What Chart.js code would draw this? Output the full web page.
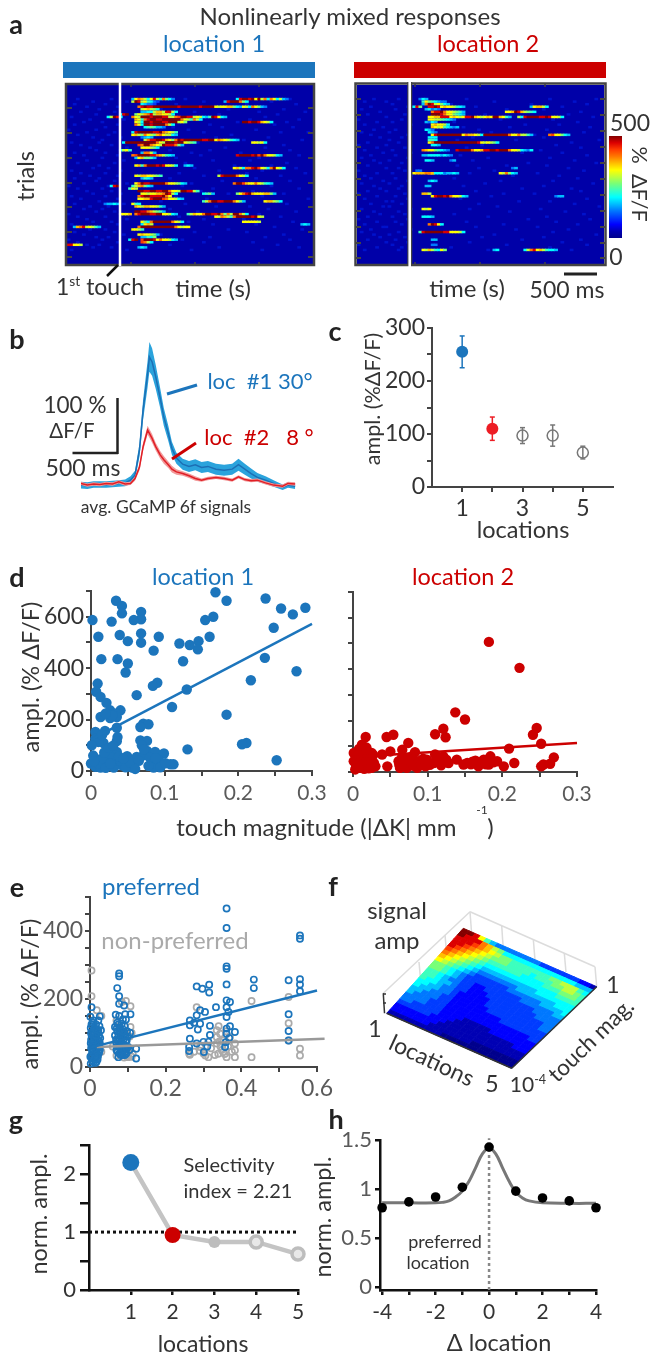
<!DOCTYPE html>
<html>
<head>
<meta charset="utf-8">
<title>Nonlinearly mixed responses</title>
<script src="https://cdn.jsdelivr.net/npm/chart.js@4"></script>
<style>
    html, body { margin: 0; padding: 0; background: #fff; }
    #page { position: relative; width: 650px; height: 1357px; overflow: hidden; font-family: Lato, sans-serif; filter: blur(0.3px); }
    #page canvas { position: absolute; }
    #page canvas.heat { filter: blur(0.5px); }
    #page canvas.surf { filter: blur(0.7px); }
    #decor { position: absolute; left: 0; top: 0; }
    .lbl { position: absolute; white-space: nowrap; line-height: 1; }
    .lbl sup { font-size: 60%; line-height: 0; }
</style>
</head>
<body>
<div id="page"></div>
<script>
// ---------- data ----------

// panel a: [trial, first time bin, colour level per bin (0-f)]
const loc1Streaks = [
    [0,21,"5acb96ae97c864"], [0,55,"6effefaf9c6ca6954"], [1,21,"9fe9a7643"], [1,51,"5efffc86"], [2,24,"65443"],
    [3,23,"cefeeffffffffeffffffeffffa9aabb865a96ca854"], [4,24,"9ab986"], [5,24,"55669bb9ee96"],
    [6,17,"6ef"], [6,22,"8a9bce9bbaa96"], [7,13,"69fe6"], [7,21,"ca9fffefffee99cdffee9a9657fea65"],
    [8,22,"ba7ceffeeffffffca97c96"], [9,22,"a96ffefffeefff9a8"], [9,57,"ffeffeba96"], [10,22,"ca6ffeffffc96"],
    [11,25,"6787554"], [13,21,"6efffffeefcba97"], [14,21,"ab98ca98bca9965"], [15,24,"4565"],
    [16,25,"9ceeffeba8cfeffffffeeffacba9765"], [17,18,"6ffffffffffca9fffeffa987"], [17,60,"aa9a6"],
    [18,23,"dcffcba9feeec85"], [19,24,"aaa986"], [20,17,"69a7"], [21,24,"5cc95"],
    [22,21,"cdffffeecb9765"], [22,55,"effffefdfcaa965"], [23,22,"5ab8875"], [26,22,"ab7cfffefeaa96"], [26,38,"565"],
    [27,54,"ab96ccefda96cfa96"], [30,22,"a9bbaa987"], [30,49,"9effffca96"], [31,24,"5765"],
    [33,22,"acfeefffffcaa9865"], [33,54,"cffdbaaca9765"], [34,14,"6ef"], [34,21,"79bc865"], [35,20,"7a9"],
    [36,23,"ffeeffeeffcaa9ffee97"], [37,24,"aa9aabbcfe96"], [37,44,"6785"], [37,55,"8acefbaaabb85"],
    [38,23,"ceffeeeefca"], [39,23,"aabbefffdcaa965"], [40,44,"79cffeefffca85"], [40,64,"abb986"],
    [41,12,"45565"], [41,21,"a76"], [42,22,"ba9bbaa975"], [44,22,"ffeecb9875"], [45,17,"aaab"], [45,22,"cefffeeffaa965"],
    [45,39,"79baacffeefc86"], [45,52,"c9ffc96"], [46,48,"a9cb97cfffffefa9"], [48,24,"a86cffffffca96"], [48,57,"aaaaa9"],
    [49,24,"6ab9"], [49,76,"565"], [50,2,"5bce9a975"], [50,23,"cfffffffffffca9aa"], [51,21,"aa97"], [53,23,"abaa985"],
    [54,24,"55768"], [55,20,"6ef"], [55,24,"dfffeacaa965"], [56,24,"dc96"], [57,0,"eeaa9"], [58,23,"565"]
];
const loc2Streaks = [
    [0,20,"465"], [1,21,"7a876544"], [2,21,"5cfe9a865"], [3,18,"6e8"], [3,23,"eefeabaa9765"], [3,56,"5abb96"],
    [4,22,"56454"], [5,24,"ceefcaa9875"], [5,48,"aabfeb9876"], [6,24,"fffecaa8765"],
    [7,23,"aabbeeeaba9aeefba9abaffba75"], [7,52,"96effffeefeaa96"], [8,23,"aa9987654"], [9,22,"5465"], [10,24,"abaa96"],
    [11,24,"ba9a76545"], [12,22,"654"], [13,23,"654"], [14,24,"aeffffffffacbba96ffffffffcaac9975"], [14,62,"cdaa865"],
    [15,23,"666"], [16,23,"776"], [17,23,"acffffffffffffffea9a986"], [18,24,"665"], [20,21,"cbaa87654"],
    [20,32,"effffcaabeeffefffcaa96546"], [22,21,"5566665654"], [24,22,"665"], [24,30,"45"], [27,50,"45"], [28,19,"44"],
    [29,18,"abbbcba"], [29,23,"cb6666"], [29,28,"45565"], [29,46,"a9c865"], [32,23,"565"], [34,22,"55"],
    [37,21,"bb9"], [38,24,"aeffefcaa965"], [38,64,"455"], [43,21,"a9a"], [46,21,"6665"], [49,23,"cfea6"],
    [52,20,"7effffffeeaaa96"], [55,24,"55"], [57,24,"44"], [59,21,"a9b976a8"], [59,44,"56"], [59,54,"69ceab97665"]
];
// brighter blue background cells, bins per trial
const loc1Speckle = [
    [3,14,38,60,72],[8,19,44,66],[2,12,35,58,74],[6,16,47,63],[10,30,52,70],[4,15,41,62,77],[9,33,49,68],[1,13,37,64],
    [7,18,43,59,75],[5,11,36,55,71],[2,16,46,67],[12,34,50,73],[0,9,39,61],[6,15,44,69,78],[3,13,31,53],[8,17,48,65],
    [11,35,57,76],[1,10,42,60],[4,14,37,70],[7,19,51,64],[9,33,46,72],[2,12,40,56],[5,16,43,68,75],[0,11,35,62],
    [6,18,47,59],[3,15,38,71],[10,31,54,66],[8,13,41,74],[1,17,49,63],[4,12,36,58,77],[7,16,44,69],[2,10,33,61],
    [9,15,50,72],[5,19,40,56],[0,13,37,66],[3,11,47,75],[6,14,43,60],[8,17,52,70],[1,12,35,63],[4,16,45,78],
    [10,30,55,68],[2,18,38,71],[7,13,48,59],[5,11,33,65],[9,15,42,74],[0,17,50,62],[3,12,36,69],[6,19,44,57],
    [8,14,39,73],[1,16,47,61],[4,10,34,67],[7,12,52,76],[2,15,41,58],[5,18,30,70],[9,13,46,64],[0,11,37,72],
    [3,16,44,60],[6,10,33,68],[8,14,49,75],[1,19,40,63]
];
const loc2Speckle = [
    [5,13,35,62,77],[2,9,44,70],[11,30,56,74],[4,16,38,66],[1,12,48,60],[7,33,52,72],[3,15,41,68],[9,36,58,76],
    [0,14,46,63],[6,11,31,71],[2,17,54,65],[8,34,49,75],[5,12,39,61],[1,10,43,73],[4,16,57,67],[7,14,37,60],
    [10,32,51,78],[3,13,45,69],[0,9,40,64],[6,15,35,72],[2,11,47,59],[8,17,53,66],[4,12,33,74],[1,16,42,62],
    [5,10,37,70],[7,14,55,77],[3,32,48,61],[9,13,39,68],[0,15,44,73],[6,11,36,58],[2,17,50,65],[4,12,31,71],
    [8,16,46,63],[1,10,41,76],[5,14,34,60],[7,13,53,69],[3,9,38,72],[0,15,47,57],[6,12,43,66],[2,16,33,74],
    [9,11,52,62],[4,14,39,70],[8,10,45,78],[1,17,36,59],[5,13,49,67],[7,15,31,73],[3,11,42,61],[0,16,55,75],
    [6,12,35,64],[2,14,47,71],[8,9,38,58],[4,17,51,68],[1,13,33,63],[5,10,44,77],[7,15,40,60],[3,12,53,72],
    [9,16,36,66],[0,11,48,74],[6,14,30,62],[2,13,42,69]
];

// panel b: time in ms, amplitude in %dF/F
const bTime = [0,70,140,210,280,350,420,490,550,600,650,690,740,760,790,830,880,920,970,1010,1060,1130,1200,1270,1340,1410,1500,1590,1680,1750,1820,1890,1960,2050,2140,2240,2300,2380];
const bBlue = [-2,-3,-1,-1,-1,0,1,2,7,16,62,135,200,231,222,195,156,122,92,65,47,36,32,35,30,32,27,25,27,35,27,19,12,7,1,-6,-2,-4];
const bBlueErr = [6,6,6,6,6,6,6,6,7,8,12,18,24,27,25,22,18,16,14,12,10,10,10,10,10,10,10,10,10,11,10,9,8,7,6,5,5,5];
const bRed = [1,-2,0,-1,1,0,4,0,1,10,31,68,98,92,83,68,53,44,35,27,22,19,15,10,7,10,12,10,7,13,8,6,7,2,-2,-4,1,0];
const bRedErr = [3,3,3,3,3,3,3,3,3,4,6,7,8,8,8,7,7,7,6,6,5,4,4,4,3,3,3,3,3,3,3,3,3,3,3,3,3,3];

// panel c
const cLocations = [1,2,3,4,5];
const cMeans = [255,110,97,97,65];
const cErrors = [30,22,15,20,12];

// panel d: [touch magnitude, amplitude]
const dLoc1 = [
    [.169,695],[.184,662],[.237,671],[.258,632],[.274,609],[.291,635],[.248,557],[.236,440],[.279,388],[.217,353],[.184,219],
    [.211,109],[.205,104],[.252,42],[.131,84],[.130,317],[.110,249],[.161,522],[.166,600],[.155,587],[.146,505],[.145,473],
    [.134,490],[.120,496],[.125,427],[.092,522],[.085,468],[.090,343],[.084,331],[.062,295],[.034,662],[.042,642],[.042,613],
    [.068,619],[.068,590],[.058,587],[.028,581],[.002,587],[.010,522],[.039,529],[.050,505],[.068,535],[.068,499],[.014,435],
    [.036,435],[.050,418],[.047,383],[.009,340],[.007,308],[.013,288],[.021,265],[.026,236],[.040,236],[.033,223],[.035,210],
    [.026,206],[.013,210],[.035,168],[.071,184],[.078,182],[.067,171],[.006,152],[.019,156],[.006,126],[.017,109],[.010,113],
    [.036,132],[.035,116],[.067,119],[.076,117],[.069,100],[.029,78],[.035,74],[.026,55],[.076,78],[.087,74],[.099,68],[.049,58],
    [.062,55],[.071,61],[.006,48],[.013,42],[.000,29],[.022,29],[.033,29],[.042,22],[.058,22],[.085,29],[.092,26],[.108,26],
    [.112,26],[.006,16],[.013,13],[.031,13],[.085,13],[.056,13],[.092,42],
    [.003,60],[.010,30],[.016,50],[.020,12],[.026,28],[.040,38],[.047,14],[.053,34],[.065,40],[.072,84],[.080,52],[.094,14],
    [.001,100],[.004,38],[.018,72],[.024,90],[.030,98],[.038,56],[.060,8],[.078,20],[.088,50],[.101,30],[.015,140],[.029,216],[.020,224],[.044,48]
];
const dLoc2 = [
    [.182,506],[.223,405],[.137,232],[.150,204],[.246,171],[.241,145],[.121,168],[.110,147],[.124,135],[.252,110],[.209,91],
    [.017,136],[.045,136],[.054,145],[.074,113],[.012,106],[.083,77],[.066,87],[.050,80],[.039,68],[.025,74],[.001,74],[.010,80],
    [.001,42],[.010,61],[.019,61],[.010,35],[.019,29],[.028,35],[.008,16],[.025,16],[.046,22],[.061,42],[.066,61],[.070,42],
    [.063,16],[.077,35],[.079,61],[.088,42],[.097,22],[.099,48],[.110,68],[.108,35],[.121,61],[.128,35],[.139,48],[.148,29],
    [.153,35],[.164,44],[.168,22],[.175,48],[.184,61],[.182,29],[.193,42],[.202,22],[.216,35],[.252,22],[.255,29],[.264,32],
    [.269,57],[.072,16],[.086,16],[.015,12],[.022,45],[.005,20],[.030,22],[.095,40],[.116,50],[.170,38],
    [.004,30],[.006,52],[.008,90],[.012,22],[.014,44],[.016,72],[.021,14],[.024,52],[.027,66],[.003,10],[.018,95],[.007,66],
    [.062,28],[.068,24],[.074,50],[.081,24],[.091,30],[.094,52],[.103,28],[.113,42],[.118,26],[.125,48],[.158,30],[.178,30],[.188,38],[.160,40]
];
const dTrend1 = [[0,122],[.3,572]];
const dTrend2 = [[0,58],[.3,113]];

// panel e
const ePreferred = [
    [.361,466],[.361,409],[.361,296],[.361,289],[.361,243],[.555,387],[.555,377],[.555,258],[.555,243],[.555,223],[.525,255],
    [.525,155],[.525,106],[.525,78],[.433,257],[.433,232],[.282,237],[.297,230],[.315,242],[.315,219],[.333,176],[.361,196],
    [.370,191],[.361,176],[.366,162],[.361,147],[.291,167],[.304,162],[.282,152],[.264,137],[.264,123],[.291,127],[.317,121],
    [.317,94],[.383,103],[.361,113],[.361,98],[.359,73],[.357,59],[.264,83],[.262,59],[.262,47],[.282,69],[.300,74],[.301,44],
    [.313,74],[.275,130],[.285,110],[.310,60],[.370,120],[.368,85],[.077,275],[.077,267],[.072,232],[.077,208],[.077,186],[.090,181],
    [.068,154],[.093,155],[.107,155],[.066,118],[.084,127],[.106,101],[.066,93],[.081,88],[.097,78],[.070,69],[.084,59],[.093,44],
    [.075,29],[.101,59],[.122,54],[.122,25],[.072,105],[.088,110],[.080,70],[.090,95],[.078,40],[.086,35],[.070,50],[.095,60],
    [.004,176],[.026,149],[.009,137],[.022,137],[.022,108],[.029,108],[.004,125],[.012,115],[.018,95],[.004,95],[.010,85],
    [.020,80],[.026,70],[.006,70],[.014,65],[.022,55],[.003,55],[.010,48],[.018,40],[.004,35],[.012,28],[.020,22],[.006,18],
    [.014,12],[.002,10],[.024,92],[.016,125],[.008,105],
    [.001,148],[.002,115],[.003,80],[.005,62],[.006,45],[.007,130],[.009,95],[.010,72],[.011,58],[.012,40],[.013,100],[.014,85],
    [.015,50],[.016,30],[.017,110],[.018,70],[.019,55],[.021,100],[.023,75],[.024,42],[.025,120],[.027,85],[.001,30],[.002,70],
    [.072,130],[.075,95],[.077,150],[.079,115],[.082,100],[.083,75],[.085,48],[.087,140],[.089,82],[.091,65],[.092,120],[.094,75],
    [.096,40],[.098,105],[.074,80],[.076,60],[.078,100],[.081,35],[.088,60],[.069,80],[.072,60],[.095,140],[.100,90],[.104,50],
    [.003,100],[.008,60],[.012,78],[.016,92],[.019,38],[.022,65],[.026,50],[.005,25],[.009,15],[.013,25],[.017,15],[.021,32],
    [.073,45],[.077,78],[.080,55],[.083,90],[.086,68],[.090,50],[.093,90],[.097,55],[.071,115],[.075,125],[.079,40],[.086,105],[.092,35]
];
const eNonPreferred = [
    [.004,284],[.004,208],[.018,167],[.030,150],[.084,191],[.095,194],[.107,179],[.107,118],[.070,137],[.101,29],[.070,34],
    [.282,176],[.264,36],[.291,59],[.313,29],[.335,108],[.344,98],[.335,88],[.352,78],[.339,39],[.361,29],[.383,29],[.383,49],
    [.383,69],[.370,88],[.335,69],[.352,44],[.427,194],[.427,29],[.525,206],[.525,129],[.555,54],[.555,34],[.525,78],[.300,40],
    [.275,45],[.320,55],[.345,60],[.360,105],[.105,50],[.110,30],[.085,45],[.060,60],[.010,60],[.020,30],[.030,45],[.014,100],
    [.340,120],[.348,50],[.356,38],[.330,35],[.342,75],[.365,60],[.375,45],[.262,40],[.290,48],[.305,34],[.113,40],[.098,30],[.090,28],[.105,90],[.110,100]
];
const eTrendPreferred = [[0,57],[.6,225]];
const eTrendNon = [[.018,59],[.62,83]];

// panel f: colour level per cell, rows from low to high touch magnitude, columns location 1 to 5
const fSurface = [
    "111111111100000000000000",
    "222222211111111000000000",
    "222222221111111111111111",
    "333333222111111111111111",
    "443333322211111111111222",
    "444433322221111122222222",
    "544433322222222222222222",
    "554443322222222222222233",
    "655443322222222233333333",
    "665544322222233333333333",
    "766544322222333333333344",
    "776554332222333333333344",
    "776544332223333333334444",
    "887654332233333333344444",
    "887654333333333344444455",
    "a98765433333344444455556",
    "ba9876544444445555555666",
    "cba987655555555556666666",
    "dcba98766666666666667777",
    "edcba9877777766667778887",
    "eedcba988877776777889987",
    "eeedcba98877777778899976",
    "feeecb986666666666666555",
    "ffea75444444443333333221"
];

// panel g
const gLocations = [1,2,3,4,5];
const gAmpl = [2.2,0.95,0.83,0.83,0.62];
const gChance = [[0,1],[5,1]];

// panel h
const hDelta = [-4,-3,-2,-1,0,1,2,3,4];
const hAmpl = [0.81,0.87,0.92,1.02,1.43,0.98,0.91,0.88,0.81];
const hFitX = [-4,-3,-2,-1.75,-1.5,-1.25,-1,-0.75,-0.5,-0.25,0,0.25,0.5,0.75,1,1.25,1.5,2,3,4];
const hFitY = [0.86,0.86,0.86,0.865,0.88,0.92,0.98,1.08,1.22,1.36,1.42,1.36,1.22,1.08,0.97,0.91,0.88,0.86,0.855,0.855];

// ---------- colours ----------
const BLUE = '#1c75bc', RED = '#cc0000', INK = '#333333', GREY = '#5a5a5a';
const jetColors = ['#00008c','#0000b4','#0000ff','#003cff','#0078ff','#00beff','#00ffff','#3cffbe',
                   '#78ff78','#beff3c','#ffff00','#ffbe00','#ff7800','#ff3c00','#dc0000','#820000'];

const page = document.getElementById('page');
const FONT = 'Lato, sans-serif';

// ---------- helpers ----------
function label(html, cx, cy, size, color, rot, weight) {
    const d = document.createElement('div');
    d.className = 'lbl';
    d.innerHTML = html;
    d.style.left = cx + 'px';
    d.style.top = cy + 'px';
    d.style.fontSize = size + 'px';
    d.style.color = color || INK;
    if (weight) d.style.fontWeight = weight;
    d.style.transform = 'translate(-50%,-50%) rotate(' + (rot || 0) + 'deg)';
    page.appendChild(d);
}

function addCanvas(x, y, w, h, cls) {
    const c = document.createElement('canvas');
    c.width = w;
    c.height = h;
    c.style.left = x + 'px';
    c.style.top = y + 'px';
    c.style.width = w + 'px';
    c.style.height = h + 'px';
    if (cls) c.className = cls;
    page.appendChild(c);
    return c;
}

function axis(o) {
    return {
        type: 'linear', min: o.min, max: o.max, reverse: !!o.reverse, offset: false,
        afterFit: s => { if (s.isHorizontal()) s.height = 40; else s.width = 70; },
        afterBuildTicks: s => { s.ticks = o.ticks.map(v => ({ value: v })); },
        ticks: {
            autoSkip: false, maxRotation: 0, padding: o.pad === undefined ? 3 : o.pad,
            color: o.labelColor || INK,
            font: { family: FONT, size: o.size || 20 },
            callback: v => (o.labels.indexOf(v) >= 0 ? String(v) : '')
        },
        grid: { drawOnChartArea: false, color: o.color || '#444', lineWidth: o.width || 2, tickLength: o.tick || 5 },
        border: { display: true, color: o.color || '#444', width: o.width || 2 }
    };
}

// plot area is placed exactly at left..right, top..bottom of the page
function plot(left, top, right, bottom, x, y, datasets) {
    const ml = 70, mb = 40, mt = 16, mr = 34;
    const c = addCanvas(left - ml, top - mt, right - left + ml + mr, bottom - top + mt + mb);
    return new Chart(c, {
        type: 'scatter',
        data: { datasets: datasets },
        options: {
            responsive: false, animation: false, events: [], devicePixelRatio: 1,
            layout: { padding: { top: mt, right: mr, left: 0, bottom: 0 } },
            plugins: { legend: { display: false }, tooltip: { enabled: false } },
            scales: { x: axis(x), y: axis(y) }
        }
    });
}

function dots(points, color, r) {
    return { data: points.map(p => ({ x: p[0], y: p[1] })), pointRadius: r, backgroundColor: color, borderColor: color, borderWidth: 0, clip: false };
}
function rings(points, color) {
    return { data: points.map(p => ({ x: p[0], y: p[1] })), pointRadius: 3.1, backgroundColor: 'transparent', borderColor: color, borderWidth: 1.7, clip: false };
}
function trend(points, color, w, dash) {
    return { data: points.map(p => ({ x: p[0], y: p[1] })), showLine: true, pointRadius: 0, borderColor: color, borderWidth: w, borderDash: dash || [], clip: false };
}

function heatmap(left, top, width, height, streaks, speckle) {
    const cells = [], colors = [];
    speckle.forEach((bins, row) => bins.forEach(b => {
        cells.push({ x: [b, b + 1], y: row + 0.5 });
        colors.push('#0012cc');
    }));
    streaks.forEach(s => {
        s[2].split('').forEach((ch, i) => {
            cells.push({ x: [s[1] + i, s[1] + i + 1], y: s[0] + 0.5 });
            colors.push(jetColors[parseInt(ch, 16)]);
        });
    });
    const c = addCanvas(left, top, width, height, 'heat');
    c.style.background = '#0000a8';
    new Chart(c, {
        type: 'bar',
        data: { datasets: [{ data: cells, backgroundColor: colors, barThickness: 1.8, grouped: false }] },
        options: {
            indexAxis: 'y', responsive: false, animation: false, events: [], devicePixelRatio: 1,
            plugins: { legend: { display: false }, tooltip: { enabled: false } },
            scales: {
                x: { type: 'linear', min: 0, max: 80, display: false },
                y: { type: 'linear', min: 0, max: 60, reverse: true, display: false }
            }
        }
    });
}

// ---------- panel a ----------
heatmap(67, 85, 246, 179, loc1Streaks, loc1Speckle);
heatmap(357, 85, 247, 179, loc2Streaks, loc2Speckle);

// colour bar
new Chart(addCanvas(609, 136, 13, 102), {
    type: 'bar',
    data: {
        labels: [''],
        datasets: [{
            data: [[0, 500]], barPercentage: 1, categoryPercentage: 1,
            backgroundColor: ctx => {
                const area = ctx.chart.chartArea;
                if (!area) return '#000';
                const g = ctx.chart.ctx.createLinearGradient(0, area.bottom, 0, area.top);
                jetColors.forEach((col, i) => g.addColorStop(i / (jetColors.length - 1), col));
                return g;
            }
        }]
    },
    options: {
        responsive: false, animation: false, events: [], devicePixelRatio: 1,
        plugins: { legend: { display: false }, tooltip: { enabled: false } },
        scales: { x: { display: false }, y: { min: 0, max: 500, display: false } }
    }
});

// ---------- panel b ----------
const bStrip = (vals, errs, sign) => vals.map((v, i) => ({ x: bTime[i], y: v + sign * errs[i] }));
const bLine = vals => vals.map((v, i) => ({ x: bTime[i], y: v }));
new Chart(addCanvas(81, 341, 216, 165), {
    type: 'scatter',
    data: {
        datasets: [
            { data: bLine(bRed), showLine: true, pointRadius: 0, borderColor: '#e01f26', borderWidth: 1.5 },
            { data: bStrip(bRed, bRedErr, 1), showLine: true, pointRadius: 0, borderWidth: 0, fill: '+1', backgroundColor: '#f29a9a' },
            { data: bStrip(bRed, bRedErr, -1), showLine: true, pointRadius: 0, borderWidth: 0 },
            { data: bLine(bBlue), showLine: true, pointRadius: 0, borderColor: '#1c6fb5', borderWidth: 1.5 },
            { data: bStrip(bBlue, bBlueErr, 1), showLine: true, pointRadius: 0, borderWidth: 0, fill: '+1', backgroundColor: '#2ba3dc' },
            { data: bStrip(bBlue, bBlueErr, -1), showLine: true, pointRadius: 0, borderWidth: 0 }
        ]
    },
    options: {
        responsive: false, animation: false, events: [], devicePixelRatio: 1,
        plugins: { legend: { display: false }, tooltip: { enabled: false } },
        scales: {
            x: { type: 'linear', min: 0, max: 2400, display: false },
            y: { type: 'linear', min: -40, max: 260, display: false }
        }
    }
});

// ---------- panel c ----------
const cColors = [BLUE, '#ed1c24', '#777', '#777', '#777'];
const cMarks = cLocations.map((loc, i) => ({
    data: [{ x: loc, y: cMeans[i] }], pointRadius: i < 2 ? 6 : 5.5,
    backgroundColor: i < 2 ? cColors[i] : 'transparent', borderColor: cColors[i], borderWidth: i < 2 ? 0 : 1.5
}));
const cBars = cLocations.map((loc, i) => ({
    data: [{ x: loc, y: cMeans[i] - cErrors[i] }, { x: loc, y: cMeans[i] + cErrors[i] }],
    showLine: true, borderColor: cColors[i], borderWidth: 1.5,
    pointStyle: 'line', pointRadius: 2.5, pointBorderColor: cColors[i], pointBorderWidth: 1.5
}));
plot(432, 328, 613, 487,
    { min: 0, max: 6, ticks: [1,2,3,4,5], labels: [1,3,5], size: 23, pad: 3 },
    { min: 0, max: 300, ticks: [0,50,100,150,200,250,300], labels: [0,100,200,300], size: 23, pad: 2 },
    cMarks.concat(cBars));

// ---------- panel d ----------
plot(91, 591, 312, 771,
    { min: 0, max: 0.3, ticks: [0,.05,.1,.15,.2,.25,.3], labels: [0,.1,.2,.3], labelColor: GREY, size: 21, pad: 5 },
    { min: 0, max: 700, ticks: [0,100,200,300,400,500,600,700], labels: [0,200,400,600], size: 23, pad: 2 },
    [trend(dTrend1, BLUE, 2.5), dots(dLoc1, BLUE, 5.2)]);
plot(353, 592, 577, 772,
    { min: 0, max: 0.3, ticks: [0,.05,.1,.15,.2,.25,.3], labels: [0,.1,.2,.3], labelColor: GREY, size: 21, pad: 5 },
    { min: 0, max: 700, ticks: [0,100,200,300,400,500,600,700], labels: [], size: 21 },
    [trend(dTrend2, RED, 2.5), dots(dLoc2, RED, 5.2)]);

// ---------- panel e ----------
plot(90, 897, 317, 1067,
    { min: 0, max: 0.6, ticks: [0,.1,.2,.3,.4,.5,.6], labels: [0,.2,.4,.6], labelColor: GREY, size: 23, pad: 3 },
    { min: 0, max: 500, ticks: [0,50,100,150,200,250,300,350,400,450,500], labels: [0,200,400], labelColor: GREY, size: 23, pad: 2 },
    [trend(eTrendPreferred, BLUE, 2.5), trend(eTrendNon, '#999', 2.5), rings(ePreferred, BLUE), rings(eNonPreferred, '#aaa')]);

// ---------- panel f ----------
const fA = [386.7, 1013.3], fB = [511.7, 1068.3], fC = [596.7, 986.7], fD = [463.3, 928.3];
const fWalls = [
    [[383.3,993.3],[470,911.7]], [[470,911.7],[595,966.7]], [[595,966.7],[596.7,986.7]], [[470,911.7],[471.5,932]],
    [[501.7,925.7],[503,945]], [[533.3,939.3],[535,960]], [[564.3,953.3],[566,972]],
    [[419,962],[421,985]], [[445,935],[447,958]]
];
const fEdges = [
    [[386.7,1013.3],[511.7,1068.3]], [[511.7,1068.3],[596.7,986.7]], [[383.3,993.3],[384.5,1013.3]],
    [[383,994],[386,994]], [[383,1003],[386,1003]]
];
function fCorner(v, u) {
    const top = [fA[0] + (fD[0] - fA[0]) * v, fA[1] + (fD[1] - fA[1]) * v];
    const bot = [fB[0] + (fC[0] - fB[0]) * v, fB[1] + (fC[1] - fB[1]) * v];
    return { x: top[0] + (bot[0] - top[0]) * u, y: top[1] + (bot[1] - top[1]) * u };
}
const fData = [];
fWalls.forEach(w => fData.push({ data: w.map(p => ({ x: p[0], y: p[1] })), showLine: true, pointRadius: 0, borderColor: '#dcdcdc', borderWidth: 1.5, order: 3 }));
const fN = fSurface.length, fM = fSurface[0].length;
fSurface.forEach((row, r) => row.split('').forEach((ch, c) => {
    const col = jetColors[parseInt(ch, 16)];
    const quad = [fCorner(r / fN, c / fM), fCorner(r / fN, (c + 1) / fM), fCorner((r + 1) / fN, (c + 1) / fM), fCorner((r + 1) / fN, c / fM), fCorner(r / fN, c / fM)];
    fData.push({ data: quad, showLine: true, pointRadius: 0, fill: 'shape', backgroundColor: col, borderColor: col, borderWidth: 1, tension: 0, order: 2 });
}));
fEdges.forEach(w => fData.push({ data: w.map(p => ({ x: p[0], y: p[1] })), showLine: true, pointRadius: 0, borderColor: '#333', borderWidth: 1.5, order: 1 }));
new Chart(addCanvas(370, 900, 240, 180, 'surf'), {
    type: 'scatter',
    data: { datasets: fData },
    options: {
        responsive: false, animation: false, events: [], devicePixelRatio: 1,
        plugins: { legend: { display: false }, tooltip: { enabled: false } },
        scales: {
            x: { type: 'linear', min: 370, max: 610, display: false },
            y: { type: 'linear', min: 900, max: 1080, reverse: true, display: false }
        }
    }
});

// ---------- panel g ----------
const gColors = [BLUE, RED, '#bdbdbd', '#bdbdbd', '#bdbdbd'];
const gMarks = gLocations.map((loc, i) => ({
    data: [{ x: loc, y: gAmpl[i] }], pointRadius: i === 0 ? 8.5 : (i === 1 ? 8 : 6),
    backgroundColor: i < 3 ? gColors[i] : '#e8e8e8', borderColor: gColors[i], borderWidth: i < 3 ? 0 : 3.5, clip: false
}));
plot(89, 1144, 298, 1290,
    { min: 0, max: 5, ticks: [1,2,3,4,5], labels: [1,2,3,4,5], color: '#111', width: 2.5, size: 21, pad: 5 },
    { min: 0, max: 2.5, ticks: [0,0.5,1,1.5,2,2.5], labels: [0,1,2], color: '#111', width: 2.5, size: 22, tick: 9, pad: 4 },
    gMarks.concat([
        trend(gChance, '#111', 3, [3, 3]),
        { data: gLocations.map((loc, i) => ({ x: loc, y: gAmpl[i] })), showLine: true, pointRadius: 0, borderColor: '#c4c4c4', borderWidth: 4.5, clip: false }
    ]));

// ---------- panel h ----------
plot(380, 1140, 596, 1290,
    { min: -4.08, max: 4, ticks: hDelta, labels: [-4,-2,0,2,4], color: '#111', width: 2.5, size: 21, pad: 5 },
    { min: -0.03, max: 1.5, ticks: [0,0.5,1,1.5], labels: [0,0.5,1,1.5], labelColor: GREY, color: '#111', width: 2.5, size: 22, tick: 5, pad: 3 },
    [
        { data: hDelta.map((d, i) => ({ x: d, y: hAmpl[i] })), pointRadius: 4.8, backgroundColor: '#000', borderWidth: 0, clip: false },
        { data: hFitX.map((d, i) => ({ x: d, y: hFitY[i] })), showLine: true, tension: 0.4, pointRadius: 0, borderColor: '#777', borderWidth: 3, clip: false },
        trend([[0,-0.03],[0,1.52]], '#888', 2.5, [3, 3])
    ]);

// ---------- frames, scale bars, leader lines ----------
const loc1TickY = [108,133,158,183,207,232,257];
const loc2TickY = [99,115,131,147,163,179,195,211,227,243,258];
function svgLine(x1, y1, x2, y2, col, w) {
    return '<line x1="' + x1 + '" y1="' + y1 + '" x2="' + x2 + '" y2="' + y2 + '" stroke="' + col + '" stroke-width="' + w + '"/>';
}
let svg = '';
svg += '<rect x="63" y="62" width="252" height="16" fill="' + BLUE + '"/>';
svg += '<rect x="354" y="62" width="252" height="16" fill="' + RED + '"/>';
svg += '<rect x="66" y="84" width="248" height="181" fill="none" stroke="#444" stroke-width="2.5"/>';
svg += '<rect x="355.5" y="83.5" width="250" height="181.5" fill="none" stroke="#444" stroke-width="2.5"/>';
loc1TickY.forEach(y => { svg += svgLine(66, y, 72, y, '#444', 2) + svgLine(308, y, 314, y, '#444', 2); });
loc2TickY.forEach(y => { svg += svgLine(356, y, 361, y, '#444', 2) + svgLine(600, y, 605, y, '#444', 2); });
[131,195,259].forEach(x => { svg += svgLine(x, 84, x, 87, '#444', 1.5) + svgLine(x, 262, x, 265, '#444', 1.5); });
[415,480,545].forEach(x => { svg += svgLine(x, 84, x, 87, '#444', 1.5) + svgLine(x, 262, x, 265, '#444', 1.5); });
svg += svgLine(120, 82, 120, 266, '#fff', 2.5);
svg += svgLine(408, 82, 408, 266, '#444', 1.5) + svgLine(411.5, 82, 411.5, 266, '#444', 1.5);
svg += svgLine(409.7, 81, 409.7, 267, '#fff', 2.6);
svg += svgLine(118, 265, 107, 276, '#111', 2.5);
svg += svgLine(564, 274, 597, 274, '#222', 3);
svg += svgLine(117.5, 398, 117.5, 454, '#222', 2.5) + svgLine(72.5, 453, 118, 453, '#222', 2.5);
svg += svgLine(167, 394, 197, 385, BLUE, 3);
svg += svgLine(172, 459, 196, 443, RED, 3);
const deco = document.createElementNS('http://www.w3.org/2000/svg', 'svg');
deco.setAttribute('id', 'decor');
deco.setAttribute('width', 650);
deco.setAttribute('height', 1357);
deco.innerHTML = svg;
page.appendChild(deco);

// ---------- text ----------
label('Nonlinearly mixed responses', 350, 16, 24, INK);
label('a', 16, 23, 27, '#222', 0, 700);
label('location 1', 214, 44, 23.5, BLUE);
label('location 2', 488, 44, 23.5, RED);
label('trials', 26, 176, 23.5, INK, -90);
label('500', 630, 122, 23, INK);
label('0', 616, 256, 23, INK);
label('%&nbsp; ΔF/F', 639, 184, 21.5, INK, 90);
label('1<sup>st</sup> touch', 100, 286, 23, INK);
label('time (s)', 213, 288, 24, INK);
label('time (s)', 467, 288, 24, INK);
label('500 ms', 567, 289, 23, INK);

label('b', 17, 338, 27, '#222', 0, 700);
label('100 %', 75, 405, 22.5, INK);
label('ΔF/F', 72, 430, 20.5, INK);
label('500 ms', 83, 467, 23, INK);
label('loc&nbsp; #1 30°', 260, 381, 22, BLUE);
label('loc&nbsp; #2 &nbsp; 8 °', 259, 437, 22, RED);
label('avg. GCaMP 6f signals', 166, 507, 17.5, INK);

label('c', 335, 330, 27, '#222', 0, 700);
label('ampl. (%ΔF/F)', 373, 399, 21.5, INK, -90);
label('locations', 523, 530, 23.5, INK);

label('d', 17, 576, 27, '#222', 0, 700);
label('location 1', 203, 577, 23.5, BLUE);
label('location 2', 463, 577, 23.5, RED);
label('ampl. (% ΔF/F)', 31, 677, 23.5, INK, -90);
label('touch magnitude (|ΔK| mm &nbsp; &nbsp; )', 335, 827, 24, INK);
label('-1', 482, 810, 12, INK);

label('e', 17, 886, 27, '#222', 0, 700);
label('preferred', 151, 886, 24, BLUE);
label('non-preferred', 175, 940, 24, '#aaa');
label('ampl. (% ΔF/F)', 30, 994, 23.5, INK, -90);

label('f', 333, 885, 27, '#222', 0, 700);
label('signal', 397, 910, 24, INK);
label('amp', 397, 940, 24, INK);
label('1', 375, 1028, 23, INK);
label('5', 492, 1083, 23, INK);
label('10<sup>-4</sup>', 528, 1083, 21, INK);
label('touch mag.', 591, 1040, 22.5, INK, -44);
label('locations', 432, 1060, 23, INK, 25);
label('1', 613, 984, 23, INK);

label('g', 16, 1119, 27, '#222', 0, 700);
label('norm. ampl.', 39, 1214, 23.5, INK, -90);
label('Selectivity', 229, 1164, 20, INK);
label('index = 2.21', 238, 1190, 20, INK);
label('locations', 203, 1343, 23, INK);

label('h', 336, 1118, 27, '#222', 0, 700);
label('norm. ampl.', 323, 1217, 23.5, INK, -90);
label('preferred', 445, 1241, 18, INK);
label('location', 438, 1262, 18, INK);
label('Δ location', 499, 1343, 23.5, INK);
</script>
</body>
</html>
